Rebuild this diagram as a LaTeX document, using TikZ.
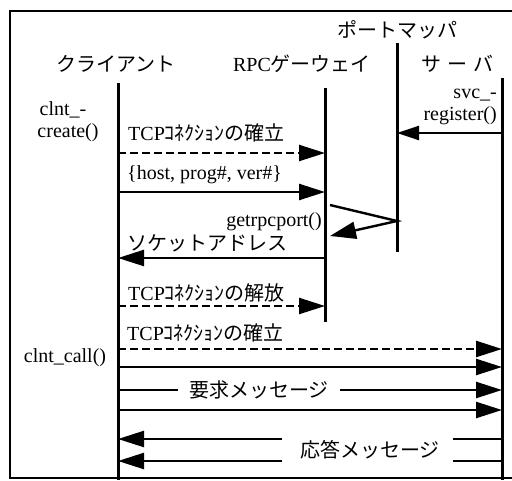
\documentclass[tikz,border=0pt]{standalone}
\usepackage{fontspec}
\setmainfont{Liberation Serif}
\newfontfamily\jp{Noto Sans CJK JP}
\usetikzlibrary{arrows.meta}
\begin{document}
\begin{tikzpicture}[x=1pt,y=-1pt,
  lifeline/.style={line width=3pt},
  msg/.style={line width=2.4pt,-{Triangle[length=26pt,width=16pt]}},
  dmsg/.style={msg,dash pattern=on 8pt off 4pt},
  plainline/.style={line width=2.4pt},
  lbl/.style={inner sep=0pt,font=\fontsize{20}{22}\selectfont},
  jlbl/.style={inner sep=0pt,font=\fontsize{20}{22}\selectfont\jp}]
\useasboundingbox (0,0) rectangle (512,480);
\clip (0,0) rectangle (512,480);
\fill[white] (0,0) rectangle (512,480);
% frame
\draw[line width=2.5pt] (10,11) rectangle (540,478);

% headers
\node[jlbl] (hpm) at (397,30) {ポートマッパ};
\node[jlbl] (hcl) at (116,64) {クライアント};
\node[lbl] (hgw) at (302,64) {RPC{\jp ゲーウェイ}};
\node[jlbl] (hsv) at (457,64) {サ\hspace{6pt}ー\hspace{6pt}バ};

% lifelines
\coordinate (cT) at (118,83);  \coordinate (cB) at (118,480);
\coordinate (gT) at (325,88);  \coordinate (gB) at (325,322);
\coordinate (pT) at (397,43);  \coordinate (pB) at (397,252);
\coordinate (sT) at (502,78);  \coordinate (sB) at (502,480);
\draw[lifeline] (cT) -- (cB);
\draw[lifeline] (gT) -- (gB);
\draw[lifeline] (pT) -- (pB);
\draw[lifeline] (sT) -- (sB);

% side labels
\node[lbl,anchor=east] (svc1) at (497,95) {svc\_-};
\node[lbl,anchor=east] (svc2) at (497,116) {register()};
\node[lbl] (cc1) at (63,110) {clnt\_-};
\node[lbl] (cc2) at (68,133) {create()};
\node[lbl] (ccall) at (65,358) {clnt\_call()};

% register
\coordinate (s0) at (502,133); \coordinate (p0) at (397,133);
\draw[msg,-{Triangle[length=22pt,width=14pt]}] (s0) -- (p0);

% TCP establish 1
\node[lbl,anchor=west] (t1) at (128,133) {TCP{\jp ｺﾈｸｼｮﾝの確立}};
\coordinate (c1) at (118,153); \coordinate (g1) at (325,153);
\draw[dmsg] (c1) -- (g1);

% host, prog, ver
\node[lbl,anchor=west] (t2) at (127,175) {\{host, prog\#, ver\#\}};
\coordinate (c2) at (118,192); \coordinate (g2) at (325,192);
\draw[msg] (c2) -- (g2);

% getrpcport
\coordinate (g3a) at (330,205); \coordinate (p3) at (397,221); \coordinate (g3b) at (330,236);
\draw[msg,-{Triangle[length=26pt,width=17pt]}] (g3a) -- (p3) -- (g3b);
\node[lbl,anchor=east] (t3) at (322,222) {getrpcport()};

% socket address
\node[jlbl,anchor=west] (t4) at (127,243) {ソケットアドレス};
\coordinate (g4) at (325,258); \coordinate (c4) at (118,258);
\draw[msg] (g4) -- (c4);

% TCP release
\node[lbl,anchor=west] (t5) at (128,293) {TCP{\jp ｺﾈｸｼｮﾝの解放}};
\coordinate (c5) at (118,306); \coordinate (g5) at (325,306);
\draw[dmsg] (c5) -- (g5);

% TCP establish 2
\node[lbl,anchor=west] (t6) at (127,333) {TCP{\jp ｺﾈｸｼｮﾝの確立}};
\coordinate (c6) at (118,349); \coordinate (s6) at (502,349);
\draw[dmsg] (c6) -- (s6);

% request messages
\coordinate (c7) at (118,367); \coordinate (s7) at (502,367);
\coordinate (c8) at (118,390); \coordinate (s8) at (502,390);
\coordinate (c9) at (118,410); \coordinate (s9) at (502,410);
\draw[msg] (c7) -- (s7);
\draw[msg] (c8) -- (s8);
\draw[msg] (c9) -- (s9);
\node[jlbl,fill=white,inner xsep=11pt,inner ysep=2pt] (req) at (259,390) {要求メッセージ};

% response messages
\node[jlbl] (resp) at (370,450) {応答メッセージ};
\coordinate (sr1) at (502,439); \coordinate (mr1) at (453,439);
\coordinate (lr1) at (282,439); \coordinate (cr1) at (118,439);
\coordinate (sr2) at (502,461); \coordinate (mr2) at (453,461);
\coordinate (lr2) at (282,461); \coordinate (cr2) at (118,461);
\draw[plainline] (sr1) -- (mr1);
\draw[plainline] (sr2) -- (mr2);
\draw[msg] (lr1) -- (cr1);
\draw[msg] (lr2) -- (cr2);
\end{tikzpicture}
\end{document}
